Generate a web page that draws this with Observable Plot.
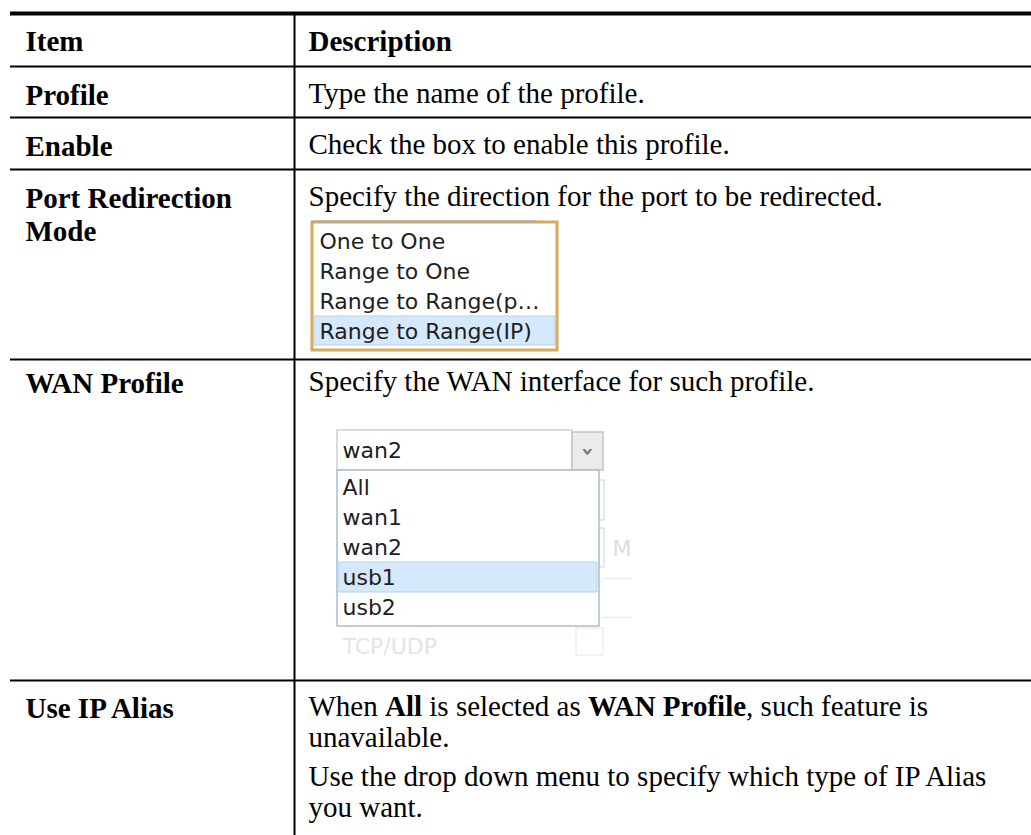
<!DOCTYPE html>
<html>
<head>
<meta charset="utf-8">
<script src="https://cdn.jsdelivr.net/npm/d3@7"></script>
<script src="https://cdn.jsdelivr.net/npm/@observablehq/plot@0.6"></script>
<style>
  html, body { margin: 0; padding: 0; background: #fff; }
  #chart svg { display: block; }
</style>
</head>
<body>
<div id="chart"></div>
<script>
// ---------- content ----------
const headers = ["Item", "Description"];
const items = ["Profile", "Enable", "Port Redirection\nMode", "WAN Profile", "Use IP Alias"];
const descriptions = [
  "Type the name of the profile.",
  "Check the box to enable this profile.",
  "Specify the direction for the port to be redirected.",
  "Specify the WAN interface for such profile.",
  "When All is selected as WAN Profile, such feature is"
];
const aliasMore = ["unavailable.", "Use the drop down menu to specify which type of IP Alias", "you want."];
const boldWords = ["All", "WAN Profile"];
const modeOptions = ["One to One", "Range to One", "Range to Range(p\u2026", "Range to Range(IP)"];
const modeSelected = "Range to Range(IP)";
const wanCurrent = "wan2";
const wanOptions = ["All", "wan1", "wan2", "usb1", "usb2"];
const wanHighlighted = "usb1";
const fadedLabels = ["TCP/UDP", "M"];

// ---------- layout ----------
const W = 1031, H = 835;
const serif = "'Liberation Serif','Times New Roman',serif";
const sans = "'DejaVu Sans',Verdana,sans-serif";
const FS = 29;
const L = {
  left: 10, right: 1031, divider: 294, col1: 25, col2: 308,
  rowTops: [13, 66, 117, 169, 359, 680], bottom: 835,
  headerBase: 37, rowBase: [36, 36, 36, 31, 35], lineH: 1.14,
  aliasOffsets: [0, 31, 70, 101]
};
const topOf = b => b - 0.71 * FS;
const mode = {x1: 312, x2: 557, y1: 222, y2: 350, first: 226, rowH: 30, tx: 319, fs: 22};
const wan = {x1: 337, x2: 572, y1: 430, y2: 470, bx2: 603, lx2: 599, ly2: 626, first: 472, rowH: 30, tx: 342, fs: 22};

const hLines = L.rowTops.map((y, i) => ({y, w: i === 0 ? 4 : 1.8}));

const headerText = headers.map((t, i) => ({t, x: i ? L.col2 : L.col1, y: topOf(L.rowTops[0] + L.headerBase)}));
const itemText = items.map((t, i) => ({t, x: L.col1, y: topOf(L.rowTops[i + 1] + L.rowBase[i])}));
const descText = descriptions.map((t, i) => ({t, x: L.col2, y: topOf(L.rowTops[i + 1] + L.rowBase[i])}));
const aliasText = aliasMore.map((t, i) => ({t, x: L.col2, y: topOf(L.rowTops[5] + L.rowBase[4] + L.aliasOffsets[i + 1])}));

const modeRows = modeOptions.map((t, i) => ({t, y1: mode.first + i * mode.rowH, y2: mode.first + (i + 1) * mode.rowH, sel: t === modeSelected}));
const wanRows = wanOptions.map((t, i) => ({t, y1: wan.first + i * wan.rowH, y2: wan.first + (i + 1) * wan.rowH, sel: t === wanHighlighted}));

const chart = Plot.plot({
  width: W, height: H, margin: 0,
  x: {type: "identity", axis: null},
  y: {type: "identity", axis: null},
  style: {background: "#fff"},
  marks: [
    Plot.ruleY(hLines, {y: "y", x1: L.left, x2: L.right, stroke: "#000", strokeWidth: "w"}),
    Plot.ruleX([L.divider], {x: d => d, y1: L.rowTops[0], y2: L.bottom, stroke: "#000", strokeWidth: 2}),
    Plot.text(headerText, {x: "x", y: "y", text: "t", textAnchor: "start", lineAnchor: "top", fontFamily: serif, fontSize: FS, fontWeight: "bold", fill: "#000"}),
    Plot.text(itemText, {x: "x", y: "y", text: "t", textAnchor: "start", lineAnchor: "top", lineHeight: L.lineH, fontFamily: serif, fontSize: FS, fontWeight: "bold", fill: "#000"}),
    Plot.text(descText, {x: "x", y: "y", text: "t", textAnchor: "start", lineAnchor: "top", fontFamily: serif, fontSize: FS, fill: "#000"}),
    Plot.text(aliasText, {x: "x", y: "y", text: "t", textAnchor: "start", lineAnchor: "top", fontFamily: serif, fontSize: FS, fill: "#000"}),

    // ---- port redirection mode list ----
    Plot.rect([mode], {x1: "x1", x2: "x2", y1: "y1", y2: "y2", fill: "#fff", stroke: "#d8aa55", strokeWidth: 3}),
    Plot.ruleY([mode], {y: d => d.y1 - 1, x1: d => d.x1, x2: d => d.x2 - 20, stroke: "#a9a9a9", strokeWidth: 2}),
    Plot.rect(modeRows.filter(d => d.sel), {x1: mode.x1 + 2, x2: mode.x2 - 2, y1: "y1", y2: d => d.y2 - 1, fill: "#d6e8fb", stroke: "#b3d3f3", strokeWidth: 1}),
    Plot.text(modeRows, {x: mode.tx, y: d => (d.y1 + d.y2) / 2, text: "t", textAnchor: "start", fontFamily: sans, fontSize: mode.fs, fill: "#1e1e1e"}),

    // ---- WAN profile select ----
    Plot.rect([wan], {x1: "x1", x2: "x2", y1: "y1", y2: "y2", fill: "#fff", stroke: "#cfcfcf", strokeWidth: 1.5}),
    Plot.rect([wan], {x1: "x2", x2: "bx2", y1: d => d.y1 + 2, y2: "y2", fill: "#ebebeb", stroke: "#c4c4c4", strokeWidth: 1.5}),
    Plot.text([wan], {x: d => (d.x2 + d.bx2) / 2, y: d => (d.y1 + d.y2) / 2 + 1, text: () => "\u203A", rotate: 90, fontFamily: "'DejaVu Sans',sans-serif", fontWeight: "bold", fontSize: 22, fill: "#777"}),
    Plot.text([wan], {x: wan.tx, y: d => (d.y1 + d.y2) / 2, text: () => wanCurrent, textAnchor: "start", fontFamily: sans, fontSize: wan.fs, fill: "#1e1e1e"}),
    Plot.rect([wan], {x1: d => d.lx2, x2: d => d.lx2 + 5, y1: 480, y2: 520, fill: "none", stroke: "#e2e2e2", strokeWidth: 1.5}),
    Plot.rect([wan], {x1: d => d.lx2, x2: d => d.lx2 + 5, y1: 528, y2: 567, fill: "none", stroke: "#e2e2e2", strokeWidth: 1.5}),
    Plot.ruleY([578, 617], {y: d => d, x1: 602, x2: 632, stroke: "#ececec", strokeWidth: 1.5}),
    Plot.rect([wan], {x1: 576, x2: 603, y1: 628, y2: 655, fill: "none", stroke: "#eeeeee", strokeWidth: 1.5}),
    Plot.text([fadedLabels[0]], {x: wan.tx, y: 646, text: d => d, textAnchor: "start", fontFamily: sans, fontSize: wan.fs, fill: "#e4e4e4"}),
    Plot.text([fadedLabels[1]], {x: 612, y: 548, text: d => d, textAnchor: "start", fontFamily: sans, fontSize: wan.fs, fill: "#dcdcdc"}),
    Plot.rect([wan], {x1: "x1", x2: "lx2", y1: "y2", y2: "ly2", fill: "#fff", stroke: "#a9bccf", strokeWidth: 1.5}),
    Plot.rect(wanRows.filter(d => d.sel), {x1: wan.x1 + 1, x2: wan.lx2 - 2, y1: "y1", y2: "y2", fill: "#d6e8fb", stroke: "#b5d4f3", strokeWidth: 1}),
    Plot.text(wanRows, {x: wan.tx, y: d => (d.y1 + d.y2) / 2, text: "t", textAnchor: "start", fontFamily: sans, fontSize: wan.fs, fill: "#1e1e1e"})
  ]
});

(function boldify(svg, line, bolds) {
  const re = new RegExp("(" + bolds.join("|") + ")");
  d3.select(svg).selectAll("text").each(function () {
    if (this.textContent !== line) return;
    const t = d3.select(this);
    const inner = this.querySelector("tspan");
    if (inner && inner.getAttribute("dy")) t.attr("dy", inner.getAttribute("dy"));
    t.text(null).style("white-space", "pre");
    line.split(re).filter(s => s).forEach(s => {
      t.append("tspan").attr("font-weight", bolds.includes(s) ? "bold" : null).text(s);
    });
  });
})(chart, descriptions[4], boldWords);

document.getElementById("chart").append(chart);
</script>
</body>
</html>
